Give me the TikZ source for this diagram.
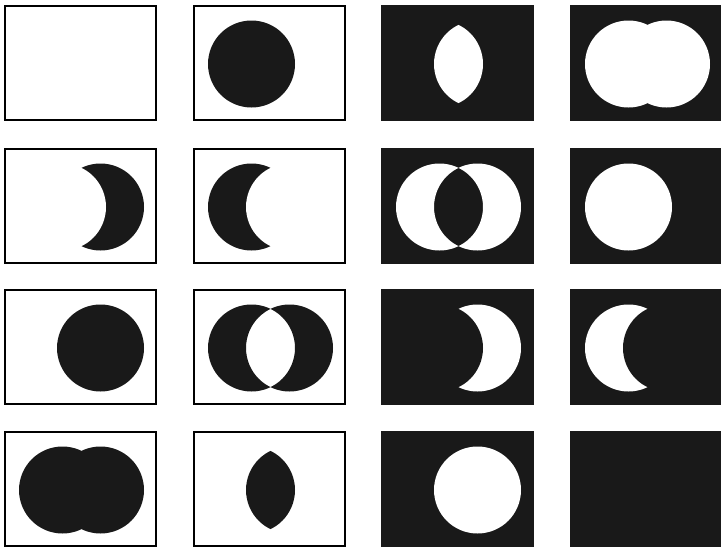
\documentclass[tikz,border=0pt]{standalone}
\begin{document}
\begin{tikzpicture}[x=1pt,y=-1pt,
  wcell/.style={draw=black,line width=1.6pt,fill=white},
  bcell/.style={fill=black!90,draw=black!90,line width=1.6pt},
  ink/.style={fill=black!90},
  paper/.style={fill=white}]
\useasboundingbox (0,0) rectangle (721,549);
\def\R{43.5}
\newcommand\mkcell[3]{%
  \coordinate (#1) at (#2,#3);
  \coordinate (#1e) at (#2+151,#3+114);
  \coordinate (#1A) at (#2+57.5,#3+58);
  \coordinate (#1B) at (#2+95.5,#3+58);}
\mkcell{c11}{5}{6}   \mkcell{c12}{194}{6}   \mkcell{c13}{382}{6}   \mkcell{c14}{571}{6}
\mkcell{c21}{5}{149} \mkcell{c22}{194}{149} \mkcell{c23}{382}{149} \mkcell{c24}{571}{149}
\mkcell{c31}{5}{290} \mkcell{c32}{194}{290} \mkcell{c33}{382}{290} \mkcell{c34}{571}{290}
\mkcell{c41}{5}{432} \mkcell{c42}{194}{432} \mkcell{c43}{382}{432} \mkcell{c44}{571}{432}
% row 1
\draw[wcell] (c11) rectangle (c11e);
\draw[wcell] (c12) rectangle (c12e);
\fill[ink] (c12A) circle (\R);
\draw[bcell] (c13) rectangle (c13e);
\begin{scope}\clip (c13A) circle (\R); \fill[paper] (c13B) circle (\R);\end{scope}
\draw[bcell] (c14) rectangle (721,120);
\fill[paper] (c14A) circle (\R) (c14B) circle (\R);
% row 2
\draw[wcell] (c21) rectangle (c21e);
\fill[ink] (c21B) circle (\R);
\begin{scope}\clip (c21B) circle (\R+1); \fill[paper] (c21A) circle (\R);\end{scope}
\draw[wcell] (c22) rectangle (c22e);
\fill[ink] (c22A) circle (\R);
\begin{scope}\clip (c22A) circle (\R+1); \fill[paper] (c22B) circle (\R);\end{scope}
\draw[bcell] (c23) rectangle (c23e);
\fill[paper,even odd rule] (c23A) circle (\R) (c23B) circle (\R);
\draw[bcell] (c24) rectangle (721,263);
\fill[paper] (c24A) circle (\R);
% row 3
\draw[wcell] (c31) rectangle (c31e);
\fill[ink] (c31B) circle (\R);
\draw[wcell] (c32) rectangle (c32e);
\fill[ink,even odd rule] (c32A) circle (\R) (c32B) circle (\R);
\draw[bcell] (c33) rectangle (c33e);
\fill[paper] (c33B) circle (\R);
\begin{scope}\clip (c33B) circle (\R+1); \fill[ink] (c33A) circle (\R);\end{scope}
\draw[bcell] (c34) rectangle (721,404);
\fill[paper] (c34A) circle (\R);
\begin{scope}\clip (c34A) circle (\R+1); \fill[ink] (c34B) circle (\R);\end{scope}
% row 4
\draw[wcell] (c41) rectangle (c41e);
\fill[ink] (c41A) circle (\R) (c41B) circle (\R);
\draw[wcell] (c42) rectangle (c42e);
\begin{scope}\clip (c42A) circle (\R); \fill[ink] (c42B) circle (\R);\end{scope}
\draw[bcell] (c43) rectangle (c43e);
\fill[paper] (c43B) circle (\R);
\draw[bcell] (c44) rectangle (721,546);
\end{tikzpicture}
\end{document}
